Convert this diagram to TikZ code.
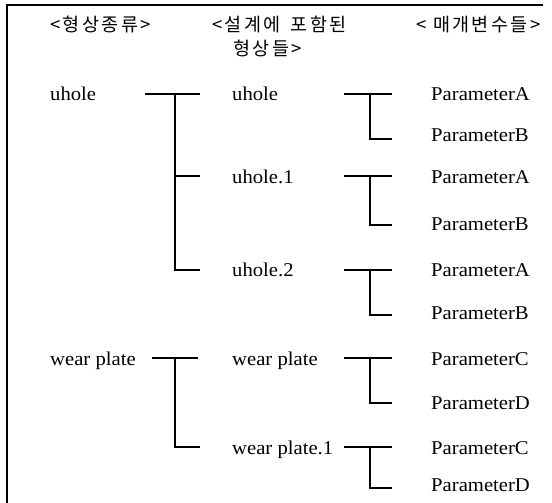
\documentclass[tikz,border=0pt]{standalone}
\usepackage{fontspec}
\setmainfont{Liberation Serif}[FakeStretch=1.06]
\newfontfamily\krfont{Noto Sans CJK KR}[LetterSpace=13]
\begin{document}
\begin{tikzpicture}[x=1pt,y=-1pt,
  lbl/.style={anchor=base west, inner sep=0pt, font=\fontsize{19.5}{22}\selectfont},
  hdr/.style={anchor=base west, inner sep=0pt, font=\krfont\fontsize{18.5}{22}\selectfont},
  conn/.style={line width=2.3pt, line join=miter},
  frameline/.style={line width=2.5pt}]
\useasboundingbox (0,0) rectangle (552,503);
% frame
\coordinate (fa) at (543,5);
\coordinate (fb) at (7,5);
\coordinate (fc) at (7,503);
\draw[frameline] (fa) -- (fb) -- (fc);
% headers
\node[hdr] (h1) at (50,32) {<형상종류>};
\node[hdr] (h2) at (212,32) {<설계에\hspace{10pt}포함된};
\node[hdr] (h2b) at (233,56) {형상들>};
\node[hdr] (h3) at (416,32) {< 매개변수들>};
% column 1
\node[lbl] (k1) at (50,101) {uhole};
\node[lbl] (k2) at (50,365) {wear plate};
% column 2
\node[lbl] (f1) at (232,101) {uhole};
\node[lbl] (f2) at (232,183) {uhole.1};
\node[lbl] (f3) at (232,276) {uhole.2};
\node[lbl] (f4) at (232,365) {wear plate};
\node[lbl] (f5) at (232,454) {wear plate.1};
% column 3
\node[lbl] (p1) at (431,101) {ParameterA};
\node[lbl] (p2) at (431,141) {ParameterB};
\node[lbl] (p3) at (431,183) {ParameterA};
\node[lbl] (p4) at (431,230) {ParameterB};
\node[lbl] (p5) at (431,276) {ParameterA};
\node[lbl] (p6) at (431,319) {ParameterB};
\node[lbl] (p7) at (431,365) {ParameterC};
\node[lbl] (p8) at (431,409) {ParameterD};
\node[lbl] (p9) at (431,454) {ParameterC};
\node[lbl] (p10) at (431,491) {ParameterD};
% column 1 brackets
\coordinate (a1s) at (145,94);
\coordinate (a1e) at (200,94);
\coordinate (a1v) at (175,94);
\coordinate (a1m) at (175,176);
\coordinate (a1me) at (200,176);
\coordinate (a1b) at (200,270);
\draw[conn] (a1s) -- (a1e);
\draw[conn] (a1v) |- (a1b);
\draw[conn] (a1m) -- (a1me);
\coordinate (a2s) at (152,358);
\coordinate (a2e) at (198,358);
\coordinate (a2v) at (175,358);
\coordinate (a2b) at (200,447);
\draw[conn] (a2s) -- (a2e);
\draw[conn] (a2v) |- (a2b);
% column 2 brackets
\foreach \n/\t/\b in {1/94/139, 2/176/225, 3/270/315, 4/358/403, 5/447/488}{
  \coordinate (b\n s) at (344,\t);
  \coordinate (b\n e) at (392,\t);
  \coordinate (b\n v) at (370,\t);
  \coordinate (b\n b) at (392,\b);
  \draw[conn] (b\n s) -- (b\n e);
  \draw[conn] (b\n v) |- (b\n b);
}
\end{tikzpicture}
\end{document}
